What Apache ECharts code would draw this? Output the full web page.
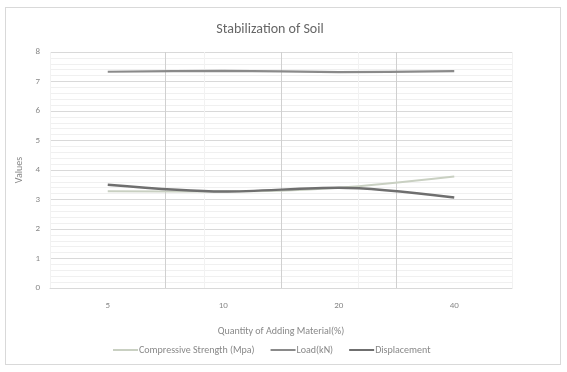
<!DOCTYPE html>
<html>
<head>
<meta charset="utf-8">
<script src="https://cdn.jsdelivr.net/npm/echarts@6/dist/echarts.min.js"></script>
<style>
html,body{margin:0;padding:0;background:#fff;}
#frame{position:absolute;left:5px;top:7px;width:556px;height:358px;border:1px solid #d9d9d9;box-sizing:border-box;}
#chart{position:absolute;left:0;top:0;width:567px;height:372px;}
</style>
</head>
<body>
<div id="frame"></div>
<div id="chart"></div>
<script>
const categories = ['5', '10', '20', '40'];
const compressiveStrength = [3.28, 3.27, 3.40, 3.78];
const load = [7.33, 7.36, 7.32, 7.35];
const displacement = [3.50, 3.27, 3.40, 3.07];
const seriesNames = ['Compressive Strength (Mpa)', 'Load(kN)', 'Displacement'];

const chart = echarts.init(document.getElementById('chart'), null, {renderer: 'canvas'});
const font = 'Calibri, Carlito, "Liberation Sans", sans-serif';
function line(name, data, color, width) {
  return {
    name: name, type: 'line', data: data, smooth: 0.3,
    symbol: 'none', lineStyle: {color: color, width: width}, itemStyle: {color: color}
  };
}
chart.setOption({
  animation: false,
  title: {
    text: 'Stabilization of Soil', left: 265, top: 17, textAlign: 'center',
    textStyle: {fontFamily: font, fontSize: 14, fontWeight: 'normal', color: '#666'}
  },
  legend: {
    bottom: 12, left: 108, itemGap: 16, itemWidth: 25, itemHeight: 2,
    icon: 'rect',
    textStyle: {fontFamily: font, fontSize: 10, color: '#888', padding: [0, 0, 0, -4]},
    data: seriesNames
  },
  grid: {left: 50, right: 55, top: 52, bottom: 84},
  xAxis: [{
    type: 'category', data: categories, boundaryGap: true,
    name: 'Quantity of Adding Material(%)', nameLocation: 'middle', nameGap: 38,
    nameTextStyle: {fontFamily: font, fontSize: 10, color: '#888'},
    axisLine: {show: true, lineStyle: {color: '#d9d9d9'}},
    axisTick: {show: false},
    axisLabel: {fontFamily: font, fontSize: 9, color: '#888', margin: 13},
    splitLine: {show: true, lineStyle: {color: '#d0d0d0'}}
  }, {
    type: 'category', data: categories, boundaryGap: false, position: 'bottom',
    show: true, axisLine: {show: false}, axisTick: {show: false}, axisLabel: {show: false},
    splitLine: {show: true, lineStyle: {color: '#f2f2f2'}}
  }],
  yAxis: {
    type: 'value', min: 0, max: 8, interval: 1,
    name: 'Values', nameLocation: 'middle', nameGap: 16, nameRotate: 90,
    nameTextStyle: {fontFamily: font, fontSize: 10, color: '#888'},
    axisLine: {show: false}, axisTick: {show: false},
    axisLabel: {fontFamily: font, fontSize: 9, color: '#888', margin: 10},
    splitLine: {show: true, lineStyle: {color: '#d9d9d9'}},
    minorTick: {show: false, splitNumber: 5},
    minorSplitLine: {show: true, lineStyle: {color: '#f0f0f0'}}
  },
  series: [
    line(seriesNames[0], compressiveStrength, '#c9d0c2', 2),
    line(seriesNames[1], load, '#8a8a8a', 2.2),
    line(seriesNames[2], displacement, '#6f6f6f', 2.4)
  ]
});
</script>
</body>
</html>
